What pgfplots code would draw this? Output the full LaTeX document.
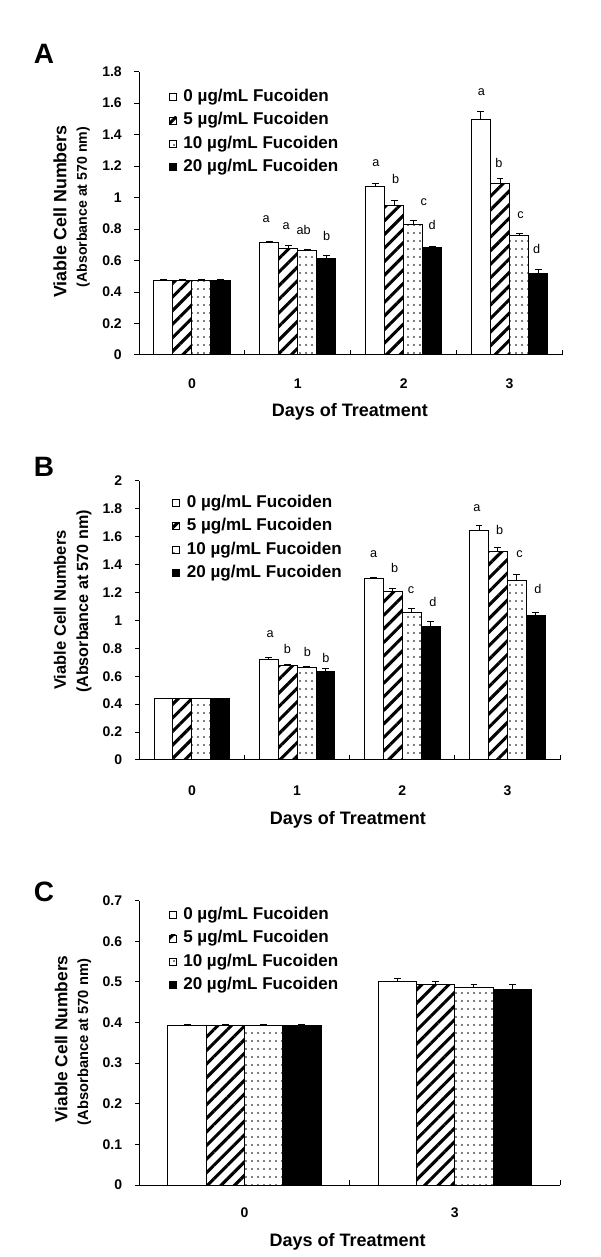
\documentclass[border=0pt]{standalone}
\usepackage{fontspec}
\setmainfont{Liberation Sans}
\usepackage{pgfplots}
\pgfplotsset{compat=1.18}
\usetikzlibrary{patterns,patterns.meta}
\pgfdeclarepatternformonly{smalldots}{\pgfpoint{-1pt}{-1pt}}{\pgfpoint{1pt}{1pt}}{\pgfpoint{4.5pt}{6pt}}{\pgfpathcircle{\pgfpoint{0pt}{0pt}}{0.7pt}\pgfusepath{fill}}
\tikzset{lt/.style={font=\fontsize{9.5pt}{10pt}\selectfont, inner sep=0pt}}
\pgfplotsset{
 panel/.style={
  scale only axis, clip=false,
  axis x line*=bottom, axis y line*=left,
  axis line style={line width=0.75pt, black},
  tick align=outside, major tick length=3.4pt, minor tick length=3.4pt,
  tick style={black, line width=0.75pt},
  major x tick style={draw=none},
  minor x tick style={yshift=3.4pt},
  ybar, bar width=0.18,
  ymin=0,
  xtick={0,1,2,3}, minor xtick={0.5,1.5,2.5,3.5},
  xmin=-0.5, xmax=3.5,
  tick label style={font=\fontsize{10.5pt}{12pt}\selectfont\bfseries},
  yticklabel style={inner sep=0pt, xshift=-9.35pt},
  legend style={draw=none, fill=none, anchor=north west, inner sep=0pt, outer sep=0pt,
    row sep=8.2pt, column sep=5pt, font=\fontsize{12.8pt}{14pt}\selectfont\bfseries,
    nodes={inner sep=0pt, text height=7.9pt, text depth=1.5pt}},
  legend cell align=left,
  error bars/y dir=plus, error bars/y explicit,
  error bars/error bar style={line width=0.75pt, black, solid},
  error bars/error mark options={rotate=90, line width=0.75pt, black, mark size=2.6pt},
 },
 limg/.style={legend image code/.code={\draw[##1, line width=0.6pt] (0pt,-2.6pt) rectangle (5.25pt,2.65pt);}},
 s0/.style={draw=black, line width=0.75pt, fill=white, limg},
 s1/.style={draw=black, line width=0.75pt, pattern={Lines[angle=45,distance=7.2pt,line width=2.3pt]}, pattern color=black, limg},
 s2/.style={draw=black, line width=0.75pt, pattern=smalldots, pattern color=black, limg},
 s3/.style={draw=black, line width=0.75pt, fill=black, limg},
}
\begin{document}
\begin{tikzpicture}
\useasboundingbox (0,0) rectangle (450pt,942.75pt);
\node[font=\fontsize{21pt}{24pt}\selectfont\bfseries] at (33pt,902.25pt) {A};
\node[font=\fontsize{21pt}{24pt}\selectfont\bfseries] at (33pt,592.5pt) {B};
\node[font=\fontsize{21pt}{24pt}\selectfont\bfseries] at (33pt,273.75pt) {C};

% ---------------- Panel A
\begin{axis}[panel, at={(104.25pt,676.5pt)}, anchor=south west,
  width=317.6pt, height=212.5pt, ymax=1.8,
  ytick={0,0.2,0.4,0.6,0.8,1,1.2,1.4,1.6,1.8},
  yticklabels={0,0.2,0.4,0.6,0.8,1,1.2,1.4,1.6,1.8},
  xticklabels={0,1,2,3},
  xticklabel style={inner sep=0pt, text height=7.6pt, text depth=0pt, yshift=-13.85pt},
  legend style={at={(rel axis cs:0,1)}, xshift=22.5pt, yshift=-14.3pt}]
\addplot[s0, bar shift=-0.27] coordinates {(0,0.474) +- (0,0.008) (1,0.712) +- (0,0.010) (2,1.072) +- (0,0.020) (3,1.495) +- (0,0.053)};
\addplot[s1, bar shift=-0.09] coordinates {(0,0.472) +- (0,0.008) (1,0.675) +- (0,0.020) (2,0.952) +- (0,0.030) (3,1.088) +- (0,0.033)};
\addplot[s2, bar shift=0.09] coordinates {(0,0.472) +- (0,0.008) (1,0.662) +- (0,0.010) (2,0.832) +- (0,0.020) (3,0.760) +- (0,0.012)};
\addplot[s3, bar shift=0.27] coordinates {(0,0.472) +- (0,0.008) (1,0.613) +- (0,0.020) (2,0.684) +- (0,0.008) (3,0.520) +- (0,0.022)};
\legend{0 µg/mL Fucoiden,5 µg/mL Fucoiden,10 µg/mL Fucoiden,20 µg/mL Fucoiden}
\node[lt] at (axis cs:0.70,0.863) {a};
\node[lt] at (axis cs:0.89,0.821) {a};
\node[lt] at (axis cs:1.055,0.796) {ab};
\node[lt] at (axis cs:1.273,0.758) {b};
\node[lt] at (axis cs:1.738,1.217) {a};
\node[lt] at (axis cs:1.925,1.116) {b};
\node[lt] at (axis cs:2.19,0.973) {c};
\node[lt] at (axis cs:2.27,0.825) {d};
\node[lt] at (axis cs:2.735,1.667) {a};
\node[lt] at (axis cs:2.90,1.217) {b};
\node[lt] at (axis cs:3.105,0.889) {c};
\node[lt] at (axis cs:3.255,0.672) {d};
\node[font=\fontsize{13.5pt}{15pt}\selectfont\bfseries, yshift=-42.75pt] at (rel axis cs:0.498,0) {Days of Treatment};
\node[rotate=90, font=\fontsize{13.4pt}{15pt}\selectfont\bfseries] at (rel axis cs:-0.1865,0.5065) {Viable Cell Numbers};
\node[rotate=90, font=\fontsize{10.6pt}{12pt}\selectfont\bfseries] at (rel axis cs:-0.1315,0.522) {(Absorbance at 570 nm)};
\end{axis}

% ---------------- Panel B
\begin{axis}[panel, at={(104.5pt,372.75pt)}, anchor=south west,
  width=315.5pt, height=209.5pt, ymax=2,
  ytick={0,0.2,0.4,0.6,0.8,1,1.2,1.4,1.6,1.8,2},
  yticklabels={0,0.2,0.4,0.6,0.8,1,1.2,1.4,1.6,1.8,2},
  xticklabels={0,1,2,3},
  xticklabel style={inner sep=0pt, text height=7.6pt, text depth=0pt, yshift=-15.35pt},
  legend style={at={(rel axis cs:0,1)}, xshift=24.8pt, yshift=-12pt}]
\addplot[s0, bar shift=-0.27] coordinates {(0,0.441) +- (0,0) (1,0.722) +- (0,0.010) (2,1.296) +- (0,0.010) (3,1.641) +- (0,0.040)};
\addplot[s1, bar shift=-0.09] coordinates {(0,0.441) +- (0,0) (1,0.678) +- (0,0.004) (2,1.207) +- (0,0.024) (3,1.495) +- (0,0.025)};
\addplot[s2, bar shift=0.09] coordinates {(0,0.441) +- (0,0) (1,0.660) +- (0,0.010) (2,1.054) +- (0,0.032) (3,1.286) +- (0,0.045)};
\addplot[s3, bar shift=0.27] coordinates {(0,0.441) +- (0,0) (1,0.636) +- (0,0.022) (2,0.955) +- (0,0.035) (3,1.033) +- (0,0.020)};
\legend{0 µg/mL Fucoiden,5 µg/mL Fucoiden,10 µg/mL Fucoiden,20 µg/mL Fucoiden}
\node[lt] at (axis cs:0.745,0.899) {a};
\node[lt] at (axis cs:0.909,0.798) {b};
\node[lt] at (axis cs:1.098,0.770) {b};
\node[lt] at (axis cs:1.273,0.732) {b};
\node[lt] at (axis cs:1.727,1.474) {a};
\node[lt] at (axis cs:1.927,1.378) {b};
\node[lt] at (axis cs:2.084,1.216) {c};
\node[lt] at (axis cs:2.291,1.131) {d};
\node[lt] at (axis cs:2.709,1.803) {a};
\node[lt] at (axis cs:2.927,1.650) {b};
\node[lt] at (axis cs:3.116,1.474) {c};
\node[lt] at (axis cs:3.291,1.221) {d};
\node[font=\fontsize{13.5pt}{15pt}\selectfont\bfseries, yshift=-45pt] at (rel axis cs:0.4956,0) {Days of Treatment};
\node[rotate=90, font=\fontsize{12.4pt}{15pt}\selectfont\bfseries] at (rel axis cs:-0.1885,0.537) {Viable Cell Numbers};
\node[rotate=90, font=\fontsize{12.1pt}{14pt}\selectfont\bfseries] at (rel axis cs:-0.1314,0.5675) {(Absorbance at 570 nm)};
\end{axis}

% ---------------- Panel C
\begin{axis}[panel, at={(104.5pt,54pt)}, anchor=south west,
  width=315.5pt, height=213.2pt, ymax=0.7,
  xmin=-0.5, xmax=1.5, xtick={0,1}, minor xtick={0.5,1.5},
  bar width=0.182,
  ytick={0,0.1,0.2,0.3,0.4,0.5,0.6,0.7},
  yticklabels={0,0.1,0.2,0.3,0.4,0.5,0.6,0.7},
  xticklabels={0,3},
  xticklabel style={inner sep=0pt, text height=7.6pt, text depth=0pt, yshift=-12.9pt},
  legend style={at={(rel axis cs:0,1)}, xshift=22.1pt, yshift=-6pt}]
\addplot[s0, bar shift=-0.273] coordinates {(0,0.393) +- (0,0.003) (1,0.500) +- (0,0.008)};
\addplot[s1, bar shift=-0.091] coordinates {(0,0.393) +- (0,0.003) (1,0.493) +- (0,0.008)};
\addplot[s2, bar shift=0.091] coordinates {(0,0.393) +- (0,0.003) (1,0.486) +- (0,0.007)};
\addplot[s3, bar shift=0.273] coordinates {(0,0.393) +- (0,0.003) (1,0.481) +- (0,0.012)};
\legend{0 µg/mL Fucoiden,5 µg/mL Fucoiden,10 µg/mL Fucoiden,20 µg/mL Fucoiden}
\node[font=\fontsize{13.5pt}{15pt}\selectfont\bfseries, yshift=-42.5pt] at (rel axis cs:0.495,0) {Days of Treatment};
\node[rotate=90, font=\fontsize{13pt}{15pt}\selectfont\bfseries] at (rel axis cs:-0.186,0.5135) {Viable Cell Numbers};
\node[rotate=90, font=\fontsize{11pt}{13pt}\selectfont\bfseries] at (rel axis cs:-0.131,0.503) {(Absorbance at 570 nm)};
\end{axis}
\end{tikzpicture}
\end{document}
